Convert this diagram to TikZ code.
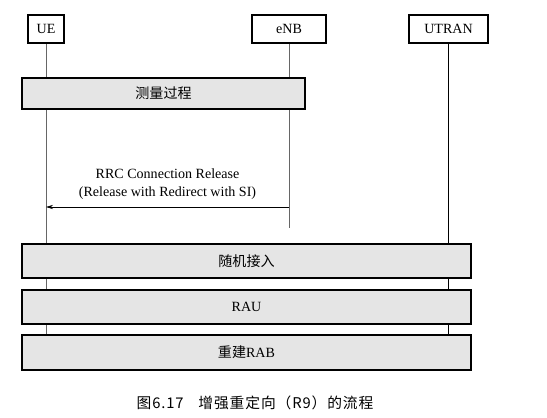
\documentclass[tikz,border=0pt]{standalone}
\usepackage{fontspec}
\setmainfont{Liberation Serif}
\newfontfamily\cjk{Noto Sans CJK SC}
\newfontfamily\cjkcap[LetterSpace=6]{Noto Sans CJK SC}
\usetikzlibrary{backgrounds,arrows.meta}

\begin{document}
\begin{tikzpicture}[x=0.025cm,y=-0.025cm,
		headbox/.style={draw,line width=1.3pt,minimum height=0.7cm,inner sep=0pt,font=\fontsize{10}{12}\selectfont},
		procbox/.style={draw,line width=1.3pt,fill=gray!20,inner sep=0pt,font=\fontsize{10}{12}\selectfont},
		lifeline/.style={draw=black!60,line width=0.5pt},
		msg/.style={-{Stealth[length=5pt,width=3pt]},line width=0.5pt}]
			\useasboundingbox (0,0) rectangle (547,417);
			\node[headbox,minimum width=0.9cm] (ue) at (46,29) {UE};
			\node[headbox,minimum width=1.85cm] (enb) at (289,29) {eNB};
			\node[headbox,minimum width=1.975cm] (utran) at (448.5,29) {UTRAN};
			
			\node[procbox,minimum width=7.075cm,minimum height=0.775cm] (meas) at (163.5,93.5) {\cjk 测量过程};
			\node[procbox,minimum width=11.225cm,minimum height=0.85cm] (ra) at (246.5,261) {\cjk 随机接入};
			\node[procbox,minimum width=11.225cm,minimum height=0.85cm] (rau) at (246.5,307) {RAU};
			\node[procbox,minimum width=11.225cm,minimum height=0.875cm] (rab) at (246.5,352.5) {{\cjk 重建}RAB};
			
			\coordinate (enbend) at (289,228);
			\coordinate (msgy) at (0,207);
			
			\begin{scope}[on background layer]
				\draw[lifeline] (ue) -- (ue |- rab.north);
				\draw[lifeline] (enb) -- (enbend);
				\draw[lifeline,draw=black] (utran) -- (utran |- rab.north);
			\end{scope}
			
			\draw[msg] (enb |- msgy) -- node[above,align=center,font=\fontsize{10}{13}\selectfont,inner sep=5pt] {RRC Connection Release\\(Release with Redirect with SI)} (ue |- msgy);
			
			\node[font=\cjkcap\fontsize{10.5}{12}\selectfont] (caption) at (255,403) {图6.17\quad 增强重定向（R9）的流程};
		\end{tikzpicture}
\end{document}
